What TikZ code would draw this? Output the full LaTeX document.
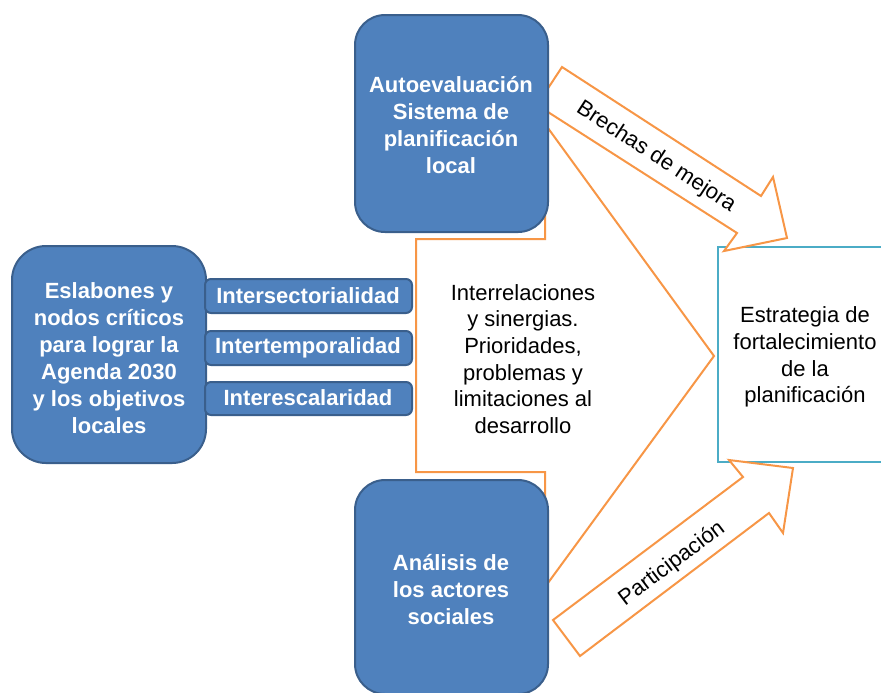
\documentclass[tikz,border=0pt]{standalone}
\usepackage{fontspec}
\setmainfont{Liberation Sans}
\definecolor{boxblue}{HTML}{4F81BD}
\definecolor{boxborder}{HTML}{3A5F8C}
\definecolor{arroworange}{HTML}{F79646}
\definecolor{stratcyan}{HTML}{4BACC6}
\tikzset{
  bluebox/.style={draw=boxborder,fill=boxblue,line width=1pt},
  orangeshape/.style={draw=arroworange,fill=white,line width=1pt,line join=miter},
  boxtext/.style={text=white,font=\fontsize{11}{13.5}\selectfont\bfseries,align=center,inner sep=0},
  plaintext/.style={font=\fontsize{11}{13.3}\selectfont,align=center,inner sep=0},
}
\begin{document}
\begin{tikzpicture}[x=0.5pt,y=-0.5pt]
\clip(0,0)rectangle(881,692);
%strategy box
\draw[draw=stratcyan,line width=1pt,fill=white](718,247)rectangle(900,462);
%big arrow
\draw[orangeshape](416,239)--(545,239)--(545,124)--(714,356)--(545,587)--(545,472)--(416,472)--cycle;
%brechas arrow
\draw[orangeshape](562,67)--(761,196)--(773,177)--(787,238)--(724,251)--(737,233)--(537,105)--cycle;
%participacion arrow
\draw[orangeshape](553,620)--(743,477)--(729,460)--(793,468)--(783,533)--(769,513)--(580,656)--cycle;
%blue boxes
\draw[bluebox,rounded corners=15pt](355,15)rectangle(548,232);
\draw[bluebox,rounded corners=15pt](355,480)rectangle(548,694);
\draw[bluebox,rounded corners=17pt](12,246)rectangle(206,463);
\draw[bluebox,rounded corners=3pt](205,279)rectangle(412,313);
\draw[bluebox,rounded corners=3pt](205,331)rectangle(412,365);
\draw[bluebox,rounded corners=3pt](205,382)rectangle(412,415);
%labels
\node[boxtext](autoeval)at(451,125){Autoevaluación\\Sistema de\\planificación\\local};
\node[boxtext](analisis)at(451,590){Análisis de\\los actores\\sociales};
\node[boxtext](eslabones)at(109,358){Eslabones y\\nodos críticos\\para lograr la\\Agenda 2030\\y los objetivos\\locales};
\node[boxtext](intersec)at(308,296){Intersectorialidad};
\node[boxtext](intertemp)at(308,348){Intertemporalidad};
\node[boxtext](interesc)at(308,398){Interescalaridad};
\node[plaintext](interrel)at(523,359){Interrelaciones\\y sinergias.\\Prioridades,\\problemas y\\limitaciones al\\desarrollo};
\node[plaintext](estrategia)at(805,357){Estrategia de\\fortalecimiento\\de la\\planificación};
\node[plaintext,rotate=-33](brechas)at(656,157){Brechas de mejora};
\node[plaintext,rotate=37](particip)at(672,564){Participación};
\end{tikzpicture}
\end{document}
